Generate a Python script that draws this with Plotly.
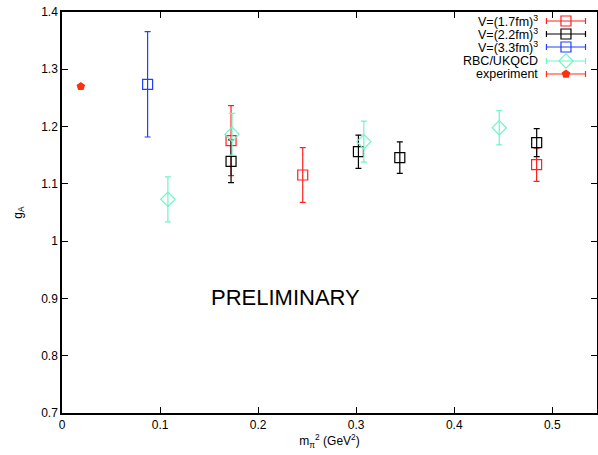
import plotly.graph_objects as go

# ---- data ----
v17_x = [0.1724, 0.2455, 0.4840]
v17_y = [1.1754, 1.1155, 1.1335]
v17_e = [0.061, 0.0477, 0.029]

v22_x = [0.1724, 0.3023, 0.3445, 0.4841]
v22_y = [1.1394, 1.1562, 1.1457, 1.1720]
v22_e = [0.0373, 0.0290, 0.0275, 0.0245]

v33_x = [0.0873]
v33_y = [1.2738]
v33_e = [0.0920]

rbc_x = [0.1080, 0.1734, 0.3078, 0.4459]
rbc_y = [1.0730, 1.1865, 1.1737, 1.1980]
rbc_e = [0.0393, 0.0365, 0.0358, 0.0300]

exp_x = [0.0192]
exp_y = [1.2700]

legend_labels = ["V=(1.7fm)<sup>3</sup>", "V=(2.2fm)<sup>3</sup>", "V=(3.3fm)<sup>3</sup>",
                 "RBC/UKQCD", "experiment"]

x_ticks = [0, 0.1, 0.2, 0.3, 0.4, 0.5]
y_ticks = [0.7, 0.8, 0.9, 1.0, 1.1, 1.2, 1.3, 1.4]
y_tick_text = ["0.7", "0.8", "0.9", "1", "1.1", "1.2", "1.3", "1.4"]

RED = "#ff2020"
BLACK = "#000000"
BLUE = "#2040ff"
CYAN = "#70f5c8"
ORANGE = "#ff3010"

FONT = "Liberation Sans, Arial"

fig = go.Figure()

def series(x, y, e, color, symbol, size):
    fig.add_trace(go.Scatter(
        x=x, y=y, mode="markers",
        marker=dict(symbol=symbol, size=size, color=color,
                    line=dict(color=color, width=1.2)),
        error_y=dict(type="data", array=e, visible=True, color=color,
                     thickness=1.2, width=3),
        showlegend=False, hoverinfo="skip"))

series(v17_x, v17_y, v17_e, RED, "square-open", 10)
series(v22_x, v22_y, v22_e, BLACK, "square-open", 10)
series(v33_x, v33_y, v33_e, BLUE, "square-open", 10)
series(rbc_x, rbc_y, rbc_e, CYAN, "diamond-open", 11)
fig.add_trace(go.Scatter(
    x=exp_x, y=exp_y, mode="markers",
    marker=dict(symbol="pentagon", size=9, color=ORANGE, line=dict(width=0)),
    showlegend=False, hoverinfo="skip"))

# ---- manual gnuplot-style key (text right-aligned, sample on the right) ----
key_rows = [0.9776, 0.9451, 0.9127, 0.8778, 0.8454]
key_colors = [RED, BLACK, BLUE, CYAN, ORANGE]
key_symbols = ["square-open", "square-open", "square-open", "diamond-open", "pentagon"]
key_sizes = [10, 10, 10, 11, 9]
for lab, yy, col, sym, sz in zip(legend_labels, key_rows, key_colors, key_symbols, key_sizes):
    fig.add_trace(go.Scatter(
        x=[0.942], y=[yy], xaxis="x2", yaxis="y2", mode="markers",
        marker=dict(symbol=sym, size=sz, color=col,
                    line=dict(color=col, width=1.2 if sym != "pentagon" else 0)),
        error_x=dict(type="constant", value=0.0365, visible=True, color=col,
                     thickness=1.2, width=3),
        showlegend=False, hoverinfo="skip"))
    fig.add_annotation(x=0.893, y=yy, xref="paper", yref="paper", text=lab,
                       showarrow=False, xanchor="right", yanchor="middle",
                       font=dict(size=12.5, color="black", family=FONT))

fig.add_annotation(x=0.228, y=0.901, xref="x", yref="y", text="PRELIMINARY",
                   showarrow=False, font=dict(size=22, color="black", family=FONT))

axis_common = dict(showline=True, linecolor="black", linewidth=1.5, mirror="ticks",
                   ticks="inside", ticklen=6, tickcolor="black", tickwidth=1,
                   showgrid=False, zeroline=False, automargin=False,
                   tickfont=dict(size=12, color="black", family=FONT))

fig.update_layout(
    width=598, height=455,
    margin=dict(l=62, r=1, t=12, b=42),
    paper_bgcolor="white", plot_bgcolor="white",
    xaxis=dict(range=[0, 0.5456], tickvals=x_ticks, ticktext=[str(v) for v in x_ticks],
               title=dict(text="m<sub>π</sub><sup>2</sup> (GeV<sup>2</sup>)", standoff=4,
                          font=dict(size=12, color="black", family=FONT)),
               **axis_common),
    yaxis=dict(range=[0.7, 1.4], tickvals=y_ticks, ticktext=y_tick_text,
               title=dict(text="g<sub>A</sub>", standoff=16,
                          font=dict(size=12, color="black", family=FONT)),
               **axis_common),
    xaxis2=dict(range=[0, 1], overlaying="x", visible=False, fixedrange=True),
    yaxis2=dict(range=[0, 1], overlaying="y", visible=False, fixedrange=True),
    font=dict(family=FONT, color="black"),
    showlegend=False,
)

fig.write_html("out.html")
